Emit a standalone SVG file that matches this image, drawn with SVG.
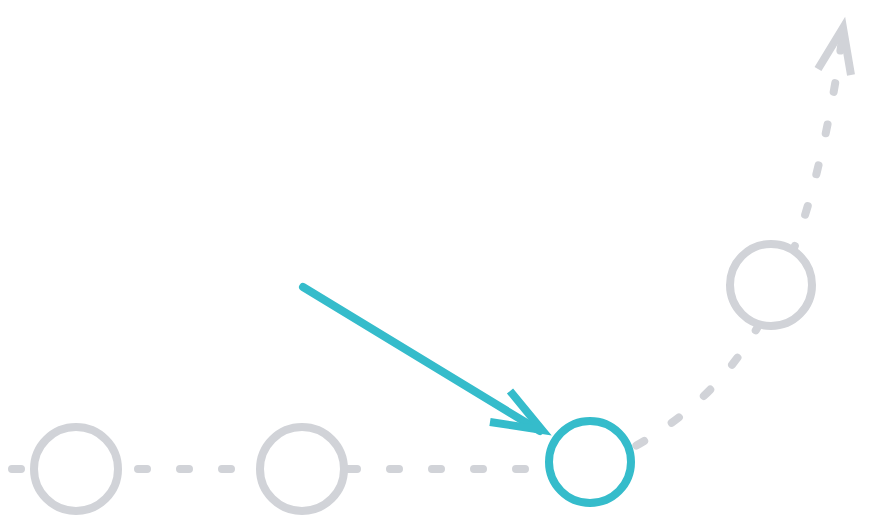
<svg xmlns="http://www.w3.org/2000/svg" width="870" height="520" viewBox="0 0 870 520">
<style>
.path{fill:none;stroke:#d1d3d8;stroke-width:8;stroke-linecap:round;stroke-dasharray:9 33}
.ghead{fill:none;stroke:#d1d3d8;stroke-width:8;stroke-linejoin:miter}
.teal{fill:none;stroke:#35bccb;stroke-width:8}
.node{fill:#ffffff;stroke:#d1d3d8;stroke-width:8}
.active{fill:#ffffff;stroke:#35bccb;stroke-width:8}
</style>
<rect width="870" height="520" fill="#ffffff"/>
<g id="connectors">
<path class="path" d="M12 469 L590 469 C720 410 800 330 842 40"/>
<path class="ghead" d="M818 69 L843 28 L851 75"/>
<line class="teal" x1="303" y1="287" x2="540" y2="431" stroke-linecap="round"/>
<path class="teal" d="M510 391 L542 430 L490 422"/>
</g>
<g id="node1"><circle class="node" cx="76" cy="469" r="42"/></g>
<g id="node2"><circle class="node" cx="302" cy="469" r="42"/></g>
<g id="node3"><circle class="active" cx="590" cy="462" r="41"/></g>
<g id="node4"><circle class="node" cx="771" cy="285" r="41"/></g>
</svg>
